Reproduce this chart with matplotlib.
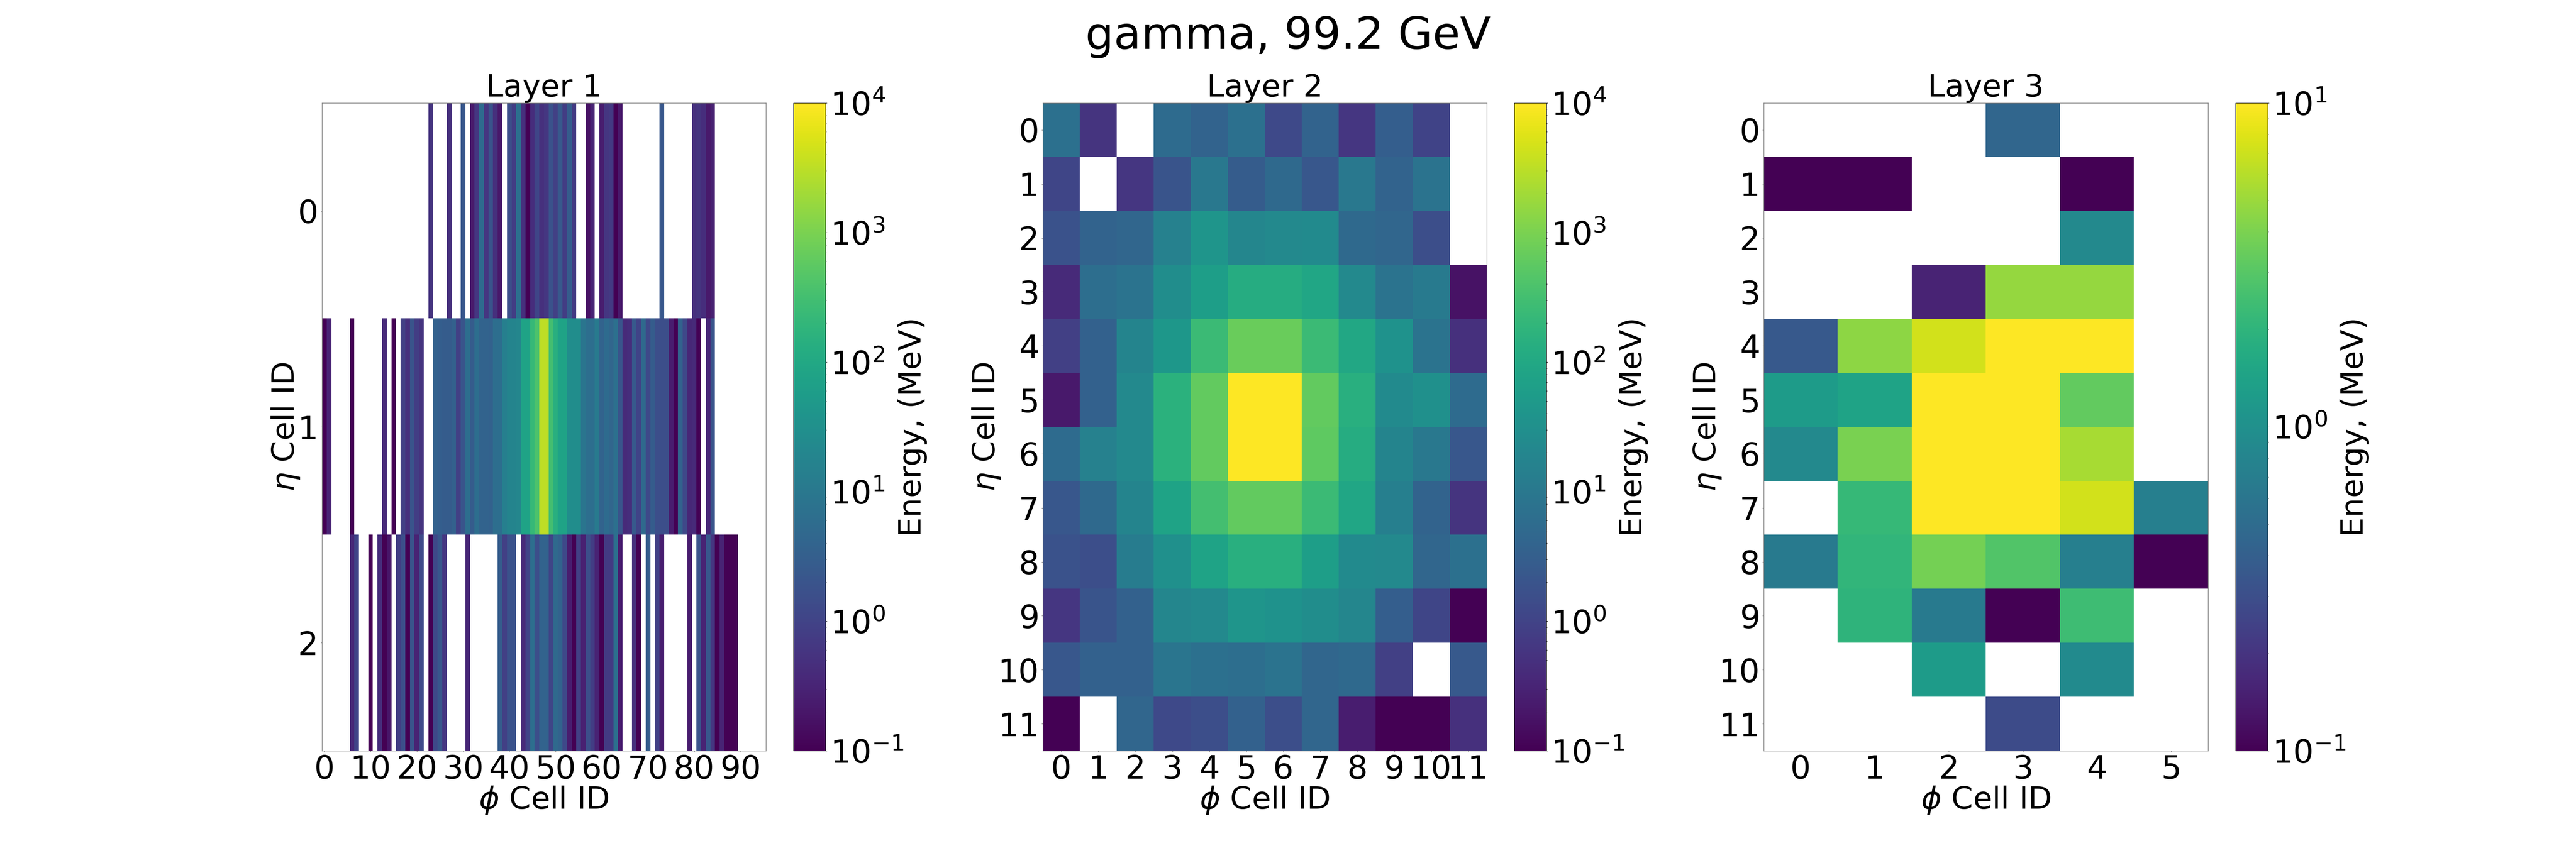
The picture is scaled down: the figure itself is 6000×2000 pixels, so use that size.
#!/usr/bin/env python3

import numpy as np
import matplotlib
matplotlib.use("Agg")
import matplotlib.pyplot as plt
from matplotlib.colors import LogNorm


# -----------------------------
# Data (log10 of energy in MeV)
# -----------------------------
nan = np.nan

layer1_row0_cells = [23, 27, 30, 32, 33, 34, 35, 36, 37, 38, 40, 41, 42, 43, 44, 45, 46, 47, 48, 49,
                     50, 51, 52, 53, 54, 57, 58, 60, 61, 62, 63, 64, 73, 80, 81, 82, 83, 84]
layer1_row0_log = [-0.25, -0.3, 0.35, -0.65, -0.2, 0.75, -0.2, 0.3, -0.3, -0.65, 0.2, -0.1, 0.85, -0.3, -1, -0.35, 0.05, -0.3, -0.2, 0.25,
                   -0.05, 0.4, -0.1, 0.45, -0.15, -0.75, -0.5, -0.6, -0.2, -0.15, -1, -0.65, 0.35, -0.3, -0.25, -0.35, -0.65, -0.55]

layer1_row1_cells = [0, 1, 6, 13, 15, 17, 18, 19, 20, 21] + list(range(24, 82)) + [83, 84]
layer1_row1_log = [-1, -0.5, -1, -0.4, -1, -0.05, -0.3, 0.3, -0.1, -0.25,
                   0.55, 0.5, 0.45, 0.45, 0.55, -0.05, 0.3, 0.8, 0.45, 0.8,
                   0.6, 0.6, 0.55, 0.8, 0.8, 1.15, 1.25, 1.25, 1.3, 1.9,
                   1.9, 2.35, 2.6, 3.5, 3.5, 2.5, 2.15, 1.9, 1.9, 1.45,
                   1.45, 1.45, 0.95, 0.8, 0.8, 1.05, 0.6, 0.75, 0.65, 0.85,
                   0.3, -0.4, -0.35, 0.4, 0, 0.7, 0.1, 0.45, 0.2, 0.2,
                   0.2, -0.6, -1, 0.6, 0.1, -0.45, -0.4, -1,
                   -0.45, 0.3]

layer1_row2_cells = [6, 7, 10, 12, 13, 14, 16, 17, 18, 19, 20, 21, 23, 24, 25, 26, 31, 38, 39, 40,
                     41, 43, 44, 45, 46, 47, 48, 49, 50, 51, 52, 53, 54, 55, 56, 57, 58, 59, 60, 61,
                     62, 63, 64, 67, 68, 70, 72, 73, 79, 81, 82, 83, 84, 85, 86, 87, 88, 89]
layer1_row2_log = [-0.45, 0, -1, -0.35, -1, -0.7, -0.1, 0.2, -1, 0.3, -0.5, 0.1, -1, 0.1, 0.35, -0.2, -0.45, 0.45, -0.05, 0.25,
                   0.25, -0.4, 0, 0.8, 0.2, 0.6, 0.6, 0.05, 0.7, 0.6, 0.1, -0.6, -1, -0.05, -0.55, 0.2, -0.1, -0.5, -1, -0.15,
                   -0.15, 0.85, -0.6, -0.3, -1, 0.45, -0.05, -0.6, -0.6, 0.25, -0.5, 0.35, -0.2, -1, -0.5, -1, -1, -1]

layer2_log = [
    [0.85, -0.25, nan, 0.75, 0.6, 0.85, 0.1, 0.6, -0.2, 0.5, 0, nan],
    [0.05, nan, -0.2, 0.3, 1, 0.45, 0.7, 0.35, 1, 0.6, 0.9, nan],
    [0.25, 0.6, 0.65, 1.2, 1.6, 1.3, 1.35, 1.4, 0.7, 0.65, 0.2, nan],
    [-0.4, 0.8, 0.9, 1.45, 1.8, 2.1, 2.1, 1.95, 1.35, 0.9, 1.05, -0.75],
    [-0.05, 0.55, 1.25, 1.65, 2.4, 2.85, 2.85, 2.4, 2, 1.55, 0.9, -0.3],
    [-0.65, 0.55, 1.35, 2.2, 2.8, 4.2, 4.2, 2.8, 2.15, 1.4, 1.5, 0.75],
    [0.75, 1.2, 1.35, 2.2, 2.8, 4.2, 4.2, 2.75, 2.1, 1.25, 1, 0.35],
    [0.35, 0.7, 1.25, 1.9, 2.5, 2.8, 2.8, 2.4, 1.95, 1.15, 0.6, -0.25],
    [0.25, 0.2, 1.1, 1.5, 1.9, 2.15, 2.15, 1.8, 1.4, 1.35, 0.65, 0.85],
    [-0.2, 0.3, 0.55, 1.3, 1.35, 1.6, 1.55, 1.45, 1.3, 0.5, 0.05, -1],
    [0.35, 0.55, 0.55, 0.95, 0.85, 0.8, 0.9, 0.65, 0.7, -0.05, nan, 0.4],
    [-1, nan, 0.65, 0.1, 0.2, 0.55, 0.2, 0.65, -0.6, -1, -1, -0.3],
]

layer3_log = [
    [nan, nan, nan, -0.34, nan, nan],
    [-1, -1, nan, nan, -1, nan],
    [nan, nan, nan, nan, -0.06, nan],
    [nan, nan, -0.8, 0.68, 0.68, nan],
    [-0.44, 0.66, 0.86, 1.2, 1.2, nan],
    [0.1, 0.16, 1.2, 1.2, 0.52, nan],
    [-0.06, 0.6, 1.2, 1.2, 0.74, nan],
    [nan, 0.34, 1.2, 1.2, 0.86, -0.14],
    [-0.18, 0.32, 0.58, 0.46, -0.14, -1],
    [nan, 0.3, -0.18, -1, 0.38, nan],
    [nan, nan, 0.1, nan, -0.04, nan],
    [nan, nan, nan, -0.54, nan, nan],
]

layer1_xticks = [0, 10, 20, 30, 40, 50, 60, 70, 80, 90]
layer1_yticks = [0, 1, 2]
layer2_xticks = list(range(12))
layer2_yticks = list(range(12))
layer3_xticks = list(range(6))
layer3_yticks = list(range(12))


# -----------------------------
# Config
# -----------------------------
W, H = 6000, 2000
TICK_FS = 27
LABEL_FS = 26
TITLE_FS = 26
SPINE = "#777777"


def px_rect(left, right, top=240, bottom=1750):
    return [left / W, 1 - bottom / H, (right - left) / W, (bottom - top) / H]


def layer1_grid():
    grid = np.full((3, 96), nan)
    grid[0, layer1_row0_cells] = layer1_row0_log
    grid[1, layer1_row1_cells] = layer1_row1_log
    grid[2, layer1_row2_cells] = layer1_row2_log
    return grid


def draw_layer(fig, log_values, title, xticks, yticks, vmax, ax_px, cax_px):
    ax = fig.add_axes(px_rect(*ax_px))
    cax = fig.add_axes(px_rect(*cax_px))

    energy = np.ma.masked_invalid(10.0 ** np.array(log_values, dtype=float))
    im = ax.imshow(energy, cmap="viridis", aspect="auto", interpolation="nearest",
                   norm=LogNorm(vmin=0.1, vmax=vmax))

    ax.set_title(title, fontsize=TITLE_FS, pad=1)
    ax.set_xticks(xticks)
    ax.set_yticks(yticks)
    ax.set_xlabel(r"$\phi$ Cell ID", fontsize=LABEL_FS, labelpad=-1)
    ax.set_ylabel(r"$\eta$ Cell ID", fontsize=LABEL_FS, labelpad=-3)
    ax.tick_params(labelsize=TICK_FS, length=1.0, width=0.4, pad=2, color=SPINE)
    for spine in ax.spines.values():
        spine.set_linewidth(0.5)
        spine.set_color(SPINE)

    cb = fig.colorbar(im, cax=cax)
    cb.set_label("Energy, (MeV)", fontsize=LABEL_FS, labelpad=-5)
    cb.ax.tick_params(which="major", labelsize=TICK_FS, length=1.0, width=0.4, pad=3)
    cb.ax.tick_params(which="minor", length=0.6, width=0.3)
    cb.outline.set_linewidth(0.4)
    return ax


def main():
    fig = plt.figure(figsize=(30, 10), dpi=200)

    draw_layer(fig, layer1_grid(), "Layer 1", layer1_xticks, layer1_yticks, 1e4,
               (750, 1784), (1848, 1923))
    draw_layer(fig, layer2_log, "Layer 2", layer2_xticks, layer2_yticks, 1e4,
               (2429, 3463), (3527, 3602))
    draw_layer(fig, layer3_log, "Layer 3", layer3_xticks, layer3_yticks, 1e1,
               (4108, 5143), (5207, 5282))

    fig.suptitle("gamma, 99.2 GeV", fontsize=37.5, x=0.5, y=0.957, va="center")

    fig.savefig("out.png", dpi=200)
    plt.close(fig)


if __name__ == "__main__":
    main()
